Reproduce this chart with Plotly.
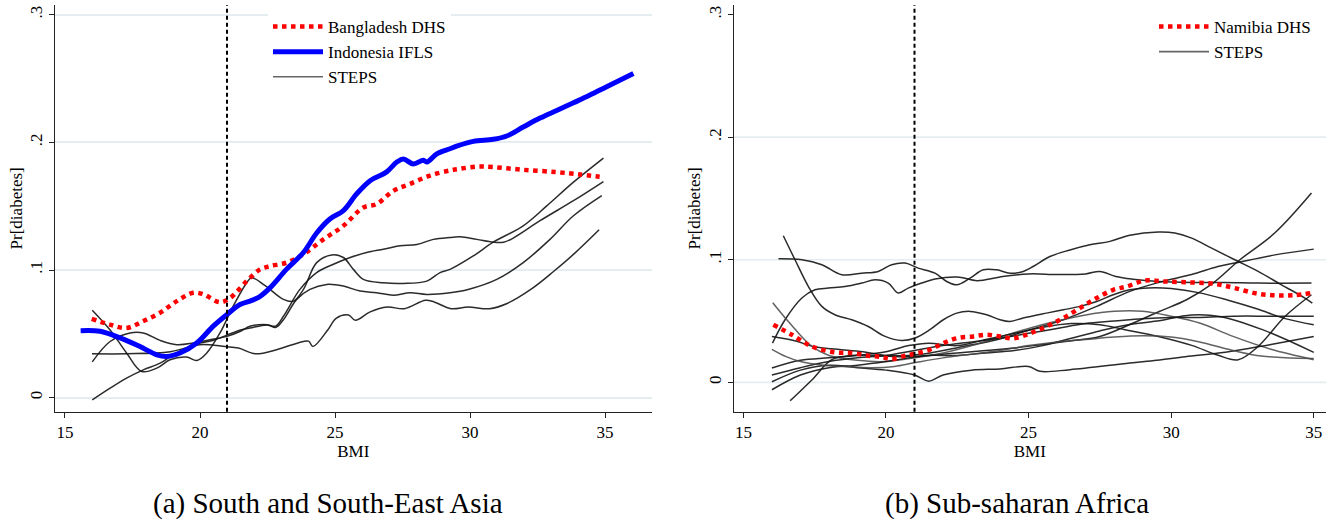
import plotly.graph_objects as go

# ---------------- Data: panel (a) South and South-East Asia ----------------
bangladesh_bmi = [15.99, 16.67, 17.28, 17.9, 18.52, 19.14, 19.75, 20.12, 20.74, 21.11, 21.73, 22.22, 22.59,
                  23.21, 23.83, 24.57, 25.31, 26.05, 26.54, 27.16, 27.78, 28.52, 29.26, 29.63, 30.25, 30.86,
                  31.97, 33.2, 34.07, 34.8]
bangladesh_val = [0.0617, 0.0572, 0.0546, 0.060, 0.0665, 0.0756, 0.0822, 0.081, 0.0748, 0.078, 0.0913, 0.1005,
                  0.103, 0.1058, 0.1124, 0.124, 0.1346, 0.149, 0.1517, 0.162, 0.1675, 0.174, 0.178, 0.1793,
                  0.181, 0.1806, 0.1785, 0.1767, 0.1748, 0.173]

indonesia_bmi = [15.58, 16.3, 17.04, 17.78, 18.4, 18.77, 19.26, 19.88, 20.49, 20.99, 21.48, 21.85, 22.2, 22.59,
                 23.2, 23.83, 24.32, 24.81, 25.31, 25.8, 26.3, 26.9, 27.29, 27.53, 27.9, 28.27, 28.4, 28.77,
                 29.26, 29.5, 30.12, 30.86, 31.36, 31.97, 32.59, 33.21, 33.83, 34.44, 35.06, 36.05]
indonesia_val = [0.0525, 0.052, 0.0468, 0.040, 0.0336, 0.0323, 0.035, 0.0428, 0.056, 0.065, 0.073, 0.0756, 0.079,
                 0.086, 0.1005, 0.1137, 0.129, 0.140, 0.1465, 0.1596, 0.170, 0.1767, 0.1846, 0.187, 0.183, 0.186,
                 0.1846, 0.191, 0.195, 0.197, 0.2008, 0.2024, 0.205, 0.212, 0.219, 0.225, 0.231, 0.237, 0.2436,
                 0.254]

asia_steps_1_bmi = [16.01, 16.67, 17.28, 17.84, 18.4, 18.89, 19.5, 19.88, 20.25, 20.74, 21.23, 21.73, 21.91, 22.4,
                    23.09, 23.46, 23.83, 24.32, 24.88, 25.31, 25.68, 26.05, 26.79, 27.53, 28.4, 28.89, 29.26,
                    30.12, 30.86, 31.97, 32.83, 33.83, 34.94]
asia_steps_1_val = [0.0685, 0.053, 0.035, 0.0205, 0.0231, 0.0297, 0.0318, 0.0291, 0.035, 0.0507, 0.0717, 0.090,
                    0.094, 0.088, 0.077, 0.0756, 0.0848, 0.1058, 0.1118, 0.1098, 0.1005, 0.0927, 0.090, 0.0895,
                    0.0913, 0.098, 0.1005, 0.111, 0.1218, 0.1346, 0.150, 0.1688, 0.1877]

asia_steps_2_bmi = [16.0, 17.3, 18.9, 20.0, 20.94, 21.42, 22.05, 22.84, 23.63, 24.02, 24.18, 24.73, 25.04, 25.5,
                    25.75, 26.3, 26.93, 27.57, 28.35, 28.67, 29.3, 29.93, 30.72, 31.35, 32.29, 33.08, 33.87, 34.78]
asia_steps_2_val = [0.0344, 0.0344, 0.036, 0.0415, 0.040, 0.0389, 0.0344, 0.0376, 0.0429, 0.0443, 0.040, 0.053,
                    0.0622, 0.0648, 0.0606, 0.0672, 0.071, 0.0697, 0.0763, 0.075, 0.0697, 0.071, 0.0697, 0.0736,
                    0.0854, 0.0986, 0.113, 0.1315]

asia_steps_3_bmi = [16.01, 16.67, 17.41, 17.9, 18.52, 19.14, 19.75, 20.37, 21.0, 21.5, 21.85, 22.47, 22.8, 23.09,
                    23.7, 24.32, 24.94, 25.56, 26.17, 26.79, 27.41, 28.03, 28.64, 29.26, 29.63, 30.25, 30.86,
                    31.24, 31.6, 32.59, 33.83, 34.94]
asia_steps_3_val = [0.028, 0.044, 0.0507, 0.0507, 0.0449, 0.0415, 0.0428, 0.0454, 0.048, 0.052, 0.0559, 0.0572,
                    0.056, 0.0638, 0.0848, 0.098, 0.1045, 0.1098, 0.1137, 0.1163, 0.119, 0.120, 0.124, 0.1255,
                    0.126, 0.124, 0.1218, 0.1218, 0.125, 0.1386, 0.1543, 0.1693]

asia_steps_4_bmi = [16.01, 16.67, 17.28, 17.9, 18.52, 19.0, 19.5, 20.0, 20.5, 21.0, 21.5, 21.85, 22.5, 22.8, 23.09,
                    23.58, 24.07, 24.69, 25.31, 25.93, 26.54, 27.16, 27.78, 28.4, 29.26, 29.93, 30.99, 31.97,
                    32.96, 33.83, 34.88]
asia_steps_4_val = [-0.0018, 0.0074, 0.0153, 0.0218, 0.027, 0.0336, 0.039, 0.0428, 0.045, 0.049, 0.053, 0.0546,
                    0.057, 0.055, 0.061, 0.077, 0.0848, 0.0887, 0.0874, 0.0835, 0.0822, 0.0803, 0.0822, 0.0809,
                    0.0822, 0.0848, 0.0927, 0.1058, 0.124, 0.1425, 0.1583]

# ---------------- Data: panel (b) Sub-saharan Africa ----------------
namibia_bmi = [16.05, 16.7, 17.4, 18.21, 18.8, 19.38, 19.85, 20.2, 20.67, 21.02, 21.54, 22.01, 22.48, 23.06,
               23.53, 24.0, 24.46, 25.05, 25.63, 26.22, 26.8, 27.39, 27.97, 28.44, 29.08, 29.78, 30.72, 31.53,
               32.23, 33.05, 33.75, 34.34, 34.92]
namibia_val = [0.047, 0.0389, 0.0293, 0.0245, 0.024, 0.0218, 0.0207, 0.019, 0.0218, 0.0234, 0.0267, 0.032, 0.036,
               0.0375, 0.0389, 0.0375, 0.036, 0.040, 0.0456, 0.0525, 0.0606, 0.0688, 0.0755, 0.0782, 0.0831,
               0.0823, 0.0815, 0.0804, 0.0769, 0.0723, 0.0709, 0.0712, 0.0729]

africa_steps_1_bmi = [16.4, 16.81, 17.28, 17.75, 18.21, 18.8, 19.38, 19.97, 20.55, 21.02, 21.54, 22.01, 22.48,
                      22.95, 23.53, 24.0, 24.35, 24.81, 25.63, 26.22, 26.8, 27.39, 27.97, 28.55, 29.2, 30.0, 31.0,
                      32.0, 33.0, 34.0, 35.0]
africa_steps_1_val = [0.1196, 0.100, 0.0782, 0.062, 0.0552, 0.0511, 0.0456, 0.0375, 0.0342, 0.0362, 0.043, 0.0511,
                      0.0565, 0.0579, 0.0552, 0.0511, 0.0497, 0.0525, 0.0565, 0.0592, 0.062, 0.066, 0.0715, 0.0755,
                      0.077, 0.0765, 0.073, 0.067, 0.060, 0.052, 0.047]

africa_steps_2_bmi = [16.23, 17.05, 17.75, 18.45, 19.15, 19.73, 20.2, 20.67, 21.13, 21.72, 22.13, 22.48, 22.95,
                      23.41, 23.88, 24.35, 24.81, 25.16, 25.75, 26.45, 27.15, 27.85, 28.55, 29.55, 30.13, 30.72,
                      31.42, 32.23, 33.05, 33.87, 34.69, 34.95]
africa_steps_2_val = [0.1008, 0.100, 0.096, 0.0878, 0.0891, 0.0905, 0.096, 0.0973, 0.0932, 0.0891, 0.0823, 0.0796,
                      0.085, 0.0918, 0.0918, 0.0891, 0.0905, 0.0945, 0.1027, 0.108, 0.1122, 0.115, 0.120, 0.1226,
                      0.1218, 0.1177, 0.1095, 0.100, 0.0905, 0.0796, 0.0688, 0.0647]

africa_steps_3_bmi = [16.02, 16.46, 17.05, 17.51, 17.98, 18.56, 19.15, 19.62, 20.08, 20.43, 20.78, 21.25, 21.72,
                      22.5, 23.2, 24.0, 25.0, 26.0, 27.0, 27.5, 28.06, 28.66, 29.55, 30.72, 31.88, 33.05, 34.92]
africa_steps_3_val = [0.032, 0.0511, 0.0688, 0.0755, 0.0769, 0.0782, 0.081, 0.0837, 0.081, 0.0729, 0.0769, 0.081,
                      0.0843, 0.086, 0.083, 0.086, 0.0885, 0.088, 0.0885, 0.0905, 0.0864, 0.0842, 0.0823, 0.0815,
                      0.0815, 0.081, 0.081]

africa_steps_4_bmi = [16.64, 17.4, 18.1, 18.8, 19.5, 20.5, 21.5, 22.5, 23.5, 24.5, 25.5, 26.5, 27.5, 28.67, 29.6,
                      30.54, 31.47, 32.41, 33.64, 34.92]
africa_steps_4_val = [-0.015, 0.002, 0.0185, 0.022, 0.022, 0.021, 0.022, 0.024, 0.026, 0.028, 0.031, 0.034, 0.0375,
                      0.0484, 0.058, 0.0674, 0.081, 0.100, 0.122, 0.1544]

africa_steps_5_bmi = [16.0, 16.8, 17.5, 18.3, 19.2, 20.0, 20.8, 21.54, 22.71, 23.88, 25.05, 26.22, 27.39, 28.55,
                      29.8, 30.72, 31.64, 32.23, 33.64, 35.0]
africa_steps_5_val = [0.0375, 0.034, 0.029, 0.027, 0.025, 0.022, 0.022, 0.024, 0.0293, 0.0348, 0.043, 0.0511,
                      0.062, 0.0742, 0.083, 0.088, 0.0945, 0.0973, 0.104, 0.1087]

africa_steps_6_bmi = [16.03, 16.6, 17.4, 18.0, 19.0, 20.0, 21.0, 22.0, 23.0, 24.0, 25.0, 26.0, 27.0, 28.0, 29.0,
                      30.0, 31.0, 32.17, 33.5, 35.0]
africa_steps_6_val = [0.065, 0.049, 0.0293, 0.022, 0.018, 0.017, 0.020, 0.024, 0.030, 0.037, 0.044, 0.050, 0.055,
                      0.058, 0.058, 0.054, 0.0484, 0.0375, 0.027, 0.0185]

africa_steps_7_bmi = [16.0, 17.0, 18.0, 19.0, 20.0, 20.8, 21.5, 22.5, 23.5, 24.5, 25.5, 26.5, 27.5, 28.38, 29.55,
                      30.72, 31.65, 32.35, 33.05, 33.99, 34.92]
africa_steps_7_val = [0.0117, 0.018, 0.020, 0.022, 0.025, 0.030, 0.032, 0.030, 0.035, 0.040, 0.045, 0.048, 0.047,
                      0.043, 0.0375, 0.0302, 0.0221, 0.0185, 0.0293, 0.0538, 0.0715]

africa_steps_8_bmi = [16.0, 17.0, 18.0, 19.0, 20.0, 21.0, 22.0, 23.0, 24.0, 25.0, 26.0, 27.0, 28.0, 29.0, 30.0,
                      31.0, 32.2, 33.5, 35.0]
africa_steps_8_val = [0.006, 0.012, 0.017, 0.020, 0.022, 0.026, 0.030, 0.033, 0.036, 0.040, 0.044, 0.048, 0.050,
                      0.052, 0.053, 0.053, 0.054, 0.054, 0.054]

africa_steps_9_bmi = [16.0, 17.0, 18.0, 19.0, 20.0, 21.0, 21.5, 22.0, 23.0, 24.0, 25.0, 25.4, 26.45, 28.55, 29.5,
                      30.5, 31.9, 33.5, 35.0]
africa_steps_9_val = [0.0005, 0.010, 0.014, 0.012, 0.010, 0.006, 0.001, 0.006, 0.010, 0.011, 0.013, 0.009, 0.0104,
                      0.0158, 0.018, 0.021, 0.0245, 0.031, 0.0375]

africa_steps_10_bmi = [16.0, 17.0, 18.0, 19.0, 20.0, 20.8, 21.5, 22.5, 23.5, 24.5, 25.5, 26.5, 27.5, 28.5, 29.5,
                       30.7, 31.7, 33.2, 35.0]
africa_steps_10_val = [-0.006, 0.006, 0.012, 0.014, 0.017, 0.020, 0.022, 0.022, 0.024, 0.026, 0.030, 0.036, 0.042,
                       0.047, 0.050, 0.055, 0.0538, 0.043, 0.0245]

africa_steps_11_bmi = [16.0, 16.5, 17.0, 17.8, 18.5, 19.5, 20.3, 21.0, 22.0, 23.0, 24.0, 25.0, 26.0, 27.0, 28.0,
                       29.0, 30.0, 31.0, 32.0, 33.0, 34.0, 35.0]
africa_steps_11_val = [0.027, 0.021, 0.017, 0.014, 0.013, 0.012, 0.013, 0.016, 0.020, 0.023, 0.026, 0.030, 0.033,
                       0.035, 0.037, 0.038, 0.037, 0.033, 0.027, 0.022, 0.020, 0.0195]

threshold_bmi = 21
y_tick_vals = [0, 0.1, 0.2, 0.3]
y_tick_text = ["0", ".1", ".2", ".3"]
x_tick_vals = [15, 20, 25, 30, 35]
captions = ["(a) South and South-East Asia", "(b) Sub-saharan Africa"]

# ---------------- Figure ----------------
FONT = "Liberation Serif"
W, H = 1330, 527
fig = go.Figure()

steps_color = "rgba(20,20,20,0.9)"
steps_gray = "rgba(70,70,70,0.85)"

asia_steps = [(asia_steps_1_bmi, asia_steps_1_val), (asia_steps_2_bmi, asia_steps_2_val),
              (asia_steps_3_bmi, asia_steps_3_val), (asia_steps_4_bmi, asia_steps_4_val)]
for i, (bx, by) in enumerate(asia_steps):
    fig.add_trace(go.Scatter(x=bx, y=by, mode="lines", line=dict(color=steps_color, width=1.5, shape="spline"),
                             xaxis="x", yaxis="y", showlegend=False, hoverinfo="skip"))

fig.add_trace(go.Scatter(x=bangladesh_bmi, y=bangladesh_val, mode="lines", name="Bangladesh DHS",
                         line=dict(color="#ff0000", width=4.5, dash="dot", shape="spline"),
                         xaxis="x", yaxis="y", legend="legend", legendrank=1))
fig.add_trace(go.Scatter(x=indonesia_bmi, y=indonesia_val, mode="lines", name="Indonesia IFLS",
                         line=dict(color="#0000ff", width=5, shape="spline"),
                         xaxis="x", yaxis="y", legend="legend", legendrank=2))
fig.add_trace(go.Scatter(x=[None], y=[None], mode="lines", name="STEPS",
                         line=dict(color="#666666", width=1.6), xaxis="x", yaxis="y",
                         legend="legend", legendrank=3))

africa_steps = [(africa_steps_1_bmi, africa_steps_1_val), (africa_steps_2_bmi, africa_steps_2_val),
                (africa_steps_3_bmi, africa_steps_3_val), (africa_steps_4_bmi, africa_steps_4_val),
                (africa_steps_5_bmi, africa_steps_5_val), (africa_steps_6_bmi, africa_steps_6_val),
                (africa_steps_7_bmi, africa_steps_7_val), (africa_steps_8_bmi, africa_steps_8_val),
                (africa_steps_9_bmi, africa_steps_9_val), (africa_steps_10_bmi, africa_steps_10_val),
                (africa_steps_11_bmi, africa_steps_11_val)]
for i, (bx, by) in enumerate(africa_steps):
    col = steps_gray if i in (5, 10) else steps_color
    fig.add_trace(go.Scatter(x=bx, y=by, mode="lines", line=dict(color=col, width=1.5, shape="spline"),
                             xaxis="x2", yaxis="y2", showlegend=False, hoverinfo="skip"))

fig.add_trace(go.Scatter(x=namibia_bmi, y=namibia_val, mode="lines", name="Namibia DHS",
                         line=dict(color="#ff0000", width=4.5, dash="dot", shape="spline"),
                         xaxis="x2", yaxis="y2", legend="legend2", legendrank=1))
fig.add_trace(go.Scatter(x=[None], y=[None], mode="lines", name="STEPS",
                         line=dict(color="#666666", width=1.6), xaxis="x2", yaxis="y2",
                         legend="legend2", legendrank=2))

# Domains (pixel-based)
yb, yt = (H - 411.7) / H, (H - 5) / H
xa = dict(showline=True, linecolor="#222", linewidth=1, ticks="outside", ticklen=5, tickcolor="#222",
          tickvals=x_tick_vals, showgrid=False, zeroline=False,
          tickfont=dict(family=FONT, size=17, color="black"),
          title=dict(text="BMI", font=dict(family=FONT, size=17, color="black"), standoff=0))
ya = dict(showline=True, linecolor="#222", linewidth=1, ticks="outside", ticklen=5, tickcolor="#222",
          tickvals=y_tick_vals, ticktext=y_tick_text, tickangle=-90, zeroline=False,
          tickfont=dict(family=FONT, size=17, color="black"),
          title=dict(text="Pr[diabetes]", font=dict(family=FONT, size=17, color="black"), standoff=0))

fig.update_layout(
    width=W, height=H, paper_bgcolor="white", plot_bgcolor="white",
    margin=dict(l=0, r=0, t=0, b=0),
    xaxis=dict(xa, domain=[55 / W, 651.5 / W], range=[14.63, 36.72], anchor="y"),
    yaxis=dict(ya, domain=[yb, yt], range=[-0.011, 0.3076], anchor="x",
               showgrid=True, gridcolor="#e6edf0", gridwidth=1.6),
    xaxis2=dict(xa, domain=[733.7 / W, 1326 / W], range=[14.66, 35.43], anchor="y2"),
    yaxis2=dict(ya, domain=[yb, yt], range=[-0.0239, 0.3078], anchor="x2", showgrid=False),
    legend=dict(x=268 / W, xanchor="left", y=1 - 9 / H, yanchor="top", bgcolor="white",
                font=dict(family=FONT, size=17, color="black"), tracegroupgap=0, itemwidth=50),
    legend2=dict(x=1154 / W, xanchor="left", y=1 - 9 / H, yanchor="top", bgcolor="white",
                 font=dict(family=FONT, size=17, color="black"), tracegroupgap=0, itemwidth=50),
    showlegend=True,
)

# Gridlines for panel (b) (the top .3 line is not drawn there)
for gv in y_tick_vals[:3]:
    fig.add_shape(type="line", xref="x2 domain", yref="y2", x0=0, x1=1, y0=gv, y1=gv,
                  line=dict(color="#e6edf0", width=1.6), layer="below")

# Reference dashed line at BMI threshold in both panels
for xr, yr in (("x", "y domain"), ("x2", "y2 domain")):
    fig.add_shape(type="line", xref=xr, yref=yr, x0=threshold_bmi, x1=threshold_bmi, y0=0, y1=1,
                  line=dict(color="black", width=2, dash="4px,3px"))

# Captions
for cx, txt in zip([328 / W, 1017 / W], captions):
    fig.add_annotation(x=cx, y=(H - 503) / H, xref="paper", yref="paper", text=txt, showarrow=False,
                       font=dict(family=FONT, size=29, color="black"), xanchor="center", yanchor="middle")

fig.write_html("out.html")
